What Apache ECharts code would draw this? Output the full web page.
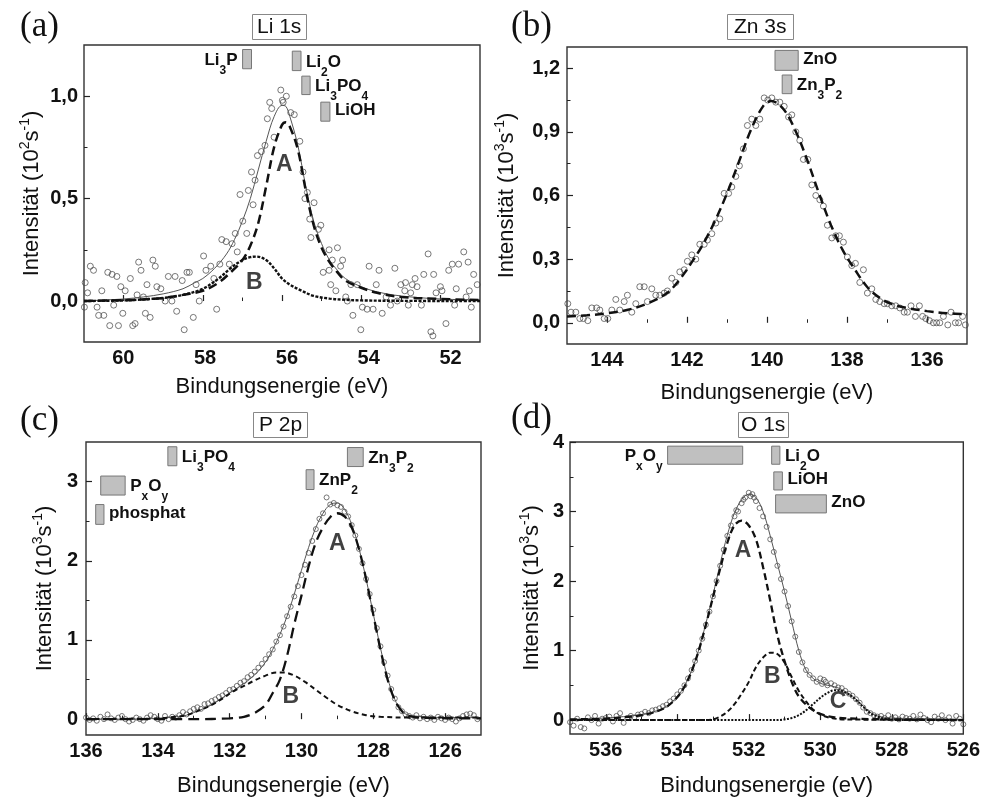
<!DOCTYPE html>
<html><head><meta charset="utf-8">
<script src="https://cdn.jsdelivr.net/npm/echarts@6/dist/echarts.min.js"></script>
<style>html,body{margin:0;padding:0;background:#fff}#c{width:983px;height:798px}</style>
</head><body><div id="c"></div>
<script>
// ---------- (a) Li 1s ----------
const aLiPts = [[60.99,-0.03],[60.97,0.09],[60.91,0.04],[60.84,0.17],[60.76,0.15],[60.67,-0.03],[60.63,-0.07],[60.55,0.05],[60.50,-0.07],[60.40,0.14],[60.35,-0.12],[60.29,0.13],[60.25,-0.02],[60.17,0.12],[60.13,-0.12],[60.07,0.07],[60.02,-0.06],[59.96,0.05],[59.83,0.11],[59.77,-0.12],[59.71,-0.11],[59.66,0.03],[59.62,0.19],[59.56,0.15],[59.50,0.02],[59.45,-0.06],[59.41,0.08],[59.33,-0.08],[59.26,0.20],[59.20,0.17],[59.16,0.07],[59.06,0.06],[58.95,0.00],[58.87,0.12],[58.78,0.00],[58.70,0.12],[58.66,-0.05],[58.52,0.10],[58.47,-0.14],[58.40,0.14],[58.34,0.14],[58.24,-0.08],[58.17,0.08],[58.09,0.00],[57.98,0.22],[57.92,0.15],[57.80,0.17],[57.72,0.11],[57.65,-0.04],[57.57,0.18],[57.52,0.30],[57.41,0.29],[57.33,0.18],[57.26,0.28],[57.18,0.33],[57.13,0.24],[57.06,0.52],[56.99,0.39],[56.89,0.33],[56.85,0.54],[56.77,0.63],[56.73,0.47],[56.68,0.59],[56.62,0.71],[56.52,0.73],[56.43,0.76],[56.37,0.89],[56.31,0.97],[56.26,0.94],[56.20,0.80],[56.03,1.03],[55.99,0.98],[55.97,0.97],[55.89,1.00],[55.78,0.92],[55.69,0.91],[55.55,0.78],[55.47,0.63],[55.42,0.50],[55.36,0.53],[55.30,0.40],[55.27,0.31],[55.19,0.48],[55.08,0.35],[55.02,0.37],[54.96,0.14],[54.81,0.25],[54.81,0.15],[54.77,0.08],[54.73,0.20],[54.64,0.05],[54.60,0.26],[54.52,0.17],[54.47,0.20],[54.39,0.02],[54.35,0.00],[54.26,0.08],[54.21,-0.07],[54.10,0.08],[54.01,-0.14],[53.97,-0.03],[53.85,-0.04],[53.80,0.17],[53.70,-0.04],[53.62,0.08],[53.55,0.15],[53.47,-0.06],[53.37,0.02],[53.26,-0.02],[53.15,0.16],[53.09,0.00],[53.00,0.08],[52.90,0.05],[52.88,0.09],[52.81,-0.02],[52.75,0.04],[52.71,0.08],[52.64,0.11],[52.59,0.07],[52.48,-0.02],[52.42,0.13],[52.31,0.23],[52.24,-0.15],[52.19,-0.17],[52.17,0.13],[52.11,0.04],[52.00,0.07],[51.96,0.05],[51.86,-0.11],[51.79,0.15],[51.70,0.18],[51.64,-0.02],[51.60,0.06],[51.54,0.18],[51.41,0.24],[51.35,0.02],[51.30,0.19],[51.27,0.05],[51.22,-0.03],[51.16,0.13],[51.07,0.08]];
const aLiEnv = [[61,0.0],[60.5,0.005],[60,0.01],[59.5,0.02],[59,0.035],[58.5,0.06],[58.2,0.09],[58,0.11],[57.7,0.16],[57.4,0.23],[57.2,0.3],[57.0,0.39],[56.8,0.5],[56.6,0.64],[56.4,0.78],[56.2,0.9],[56.0,0.955],[55.9,0.95],[55.8,0.9],[55.6,0.76],[55.4,0.56],[55.2,0.39],[55.0,0.28],[54.8,0.2],[54.6,0.15],[54.4,0.11],[54.0,0.07],[53.6,0.045],[53.0,0.025],[52.0,0.01],[51,0.005]];
const aLiA = [[61,0.0],[60,0.004],[59.5,0.008],[59,0.015],[58.5,0.03],[58,0.05],[57.6,0.09],[57.3,0.14],[57.0,0.2],[56.8,0.27],[56.6,0.38],[56.4,0.56],[56.2,0.75],[56.0,0.86],[55.9,0.873],[55.8,0.85],[55.6,0.74],[55.4,0.54],[55.2,0.37],[55.0,0.26],[54.8,0.19],[54.6,0.14],[54.4,0.1],[54.0,0.065],[53.6,0.04],[53.0,0.02],[52,0.01],[51,0.005]];
const aLiB = [[61,0.0],[60,0.003],[59.5,0.008],[59,0.015],[58.5,0.03],[58,0.06],[57.6,0.11],[57.3,0.16],[57.0,0.2],[56.8,0.214],[56.65,0.217],[56.4,0.2],[56.2,0.16],[56.0,0.11],[55.8,0.08],[55.5,0.05],[55.2,0.025],[54.8,0.012],[54.4,0.006],[54,0.003],[53,0.001],[51,0.0]];
const aLiBars = [[56.995,56.77,1.134,1.228],[55.74,55.52,1.125,1.22],[55.5,55.29,1.008,1.098],[55.02,54.79,0.878,0.971]];
const aLiBarNames = ['{m|Li}{s|3}{m|P}','{m|Li}{s|2}{m|O}','{m|Li}{s|3}{m|PO}{s|4}','{m|LiOH}'];
const aLiBarSide = ['left','right','right','right'];
const aLiPeakNames = ['A','B'];
const aLiPeakPos = [[55.94,0.667],[56.7,0.09]];
const aLiXTicks = [52,54,56,58,60], aLiXMinor = [53,55,57,59];
const aLiYTicks = [0,0.5,1.0], aLiYMinor = [0.25,0.75];
// the printed tick labels of panel (a) sit on a slightly wider scale than its tick marks
const aLiXLabelRange = [51.28, 60.96];

// ---------- (b) Zn 3s ----------
const aZnPts = [[144.98,0.09],[144.90,0.05],[144.78,0.05],[144.68,0.02],[144.59,0.02],[144.48,0.01],[144.38,0.07],[144.26,0.07],[144.18,0.06],[144.07,0.02],[143.98,0.02],[143.88,0.06],[143.78,0.11],[143.68,0.06],[143.57,0.10],[143.49,0.13],[143.38,0.05],[143.28,0.09],[143.18,0.17],[143.07,0.17],[142.99,0.10],[142.88,0.16],[142.78,0.13],[142.68,0.13],[142.57,0.14],[142.49,0.15],[142.38,0.21],[142.28,0.19],[142.18,0.24],[142.07,0.25],[141.99,0.29],[141.88,0.32],[141.78,0.30],[141.68,0.37],[141.57,0.37],[141.49,0.39],[141.38,0.42],[141.28,0.47],[141.18,0.49],[141.07,0.61],[140.96,0.61],[140.88,0.64],[140.78,0.69],[140.69,0.74],[140.59,0.82],[140.49,0.93],[140.38,0.96],[140.28,0.93],[140.18,0.96],[140.07,1.06],[139.98,1.05],[139.88,1.06],[139.78,1.04],[139.68,1.04],[139.57,1.02],[139.46,0.97],[139.38,0.98],[139.28,0.90],[139.18,0.86],[139.09,0.77],[138.98,0.77],[138.88,0.65],[138.78,0.60],[138.68,0.58],[138.59,0.55],[138.49,0.46],[138.38,0.40],[138.28,0.41],[138.19,0.41],[138.09,0.38],[137.99,0.31],[137.88,0.27],[137.79,0.28],[137.68,0.19],[137.59,0.25],[137.49,0.14],[137.38,0.16],[137.28,0.11],[137.18,0.10],[137.07,0.09],[136.99,0.09],[136.88,0.08],[136.78,0.08],[136.68,0.07],[136.57,0.05],[136.49,0.05],[136.40,0.08],[136.29,0.03],[136.19,0.08],[136.11,0.03],[136.03,0.02],[135.94,0.01],[135.84,0.00],[135.76,0.00],[135.68,0.00],[135.59,0.03],[135.48,-0.01],[135.40,0.05],[135.29,0.00],[135.21,0.00],[135.11,0.03],[135.04,-0.01]];
const aZnFit = [[145,0.03],[144.5,0.035],[144,0.045],[143.5,0.06],[143,0.09],[142.5,0.14],[142.2,0.2],[141.9,0.28],[141.6,0.37],[141.3,0.48],[141.0,0.61],[140.7,0.76],[140.4,0.91],[140.1,1.02],[139.9,1.045],[139.6,1.01],[139.3,0.91],[139.0,0.77],[138.7,0.61],[138.4,0.46],[138.1,0.34],[137.8,0.25],[137.5,0.17],[137.2,0.12],[136.9,0.09],[136.5,0.07],[136,0.055],[135.5,0.045],[135,0.04]];
const aZnBars = [[139.8,139.22,1.19,1.284],[139.62,139.38,1.08,1.168]];
const aZnBarNames = ['{m|ZnO}','{m|Zn}{s|3}{m|P}{s|2}'];
const aZnBarSide = ['right','right'];
const aZnXTicks = [136,138,140,142,144], aZnXMinor = [137,139,141,143];
const aZnYTicks = [0,0.3,0.6,0.9,1.2], aZnYMinor = [0.15,0.45,0.75,1.05];

// ---------- (c) P 2p ----------
const aPPts = [[136.0,0.02],[135.9,-0.01],[135.8,0.01],[135.7,-0.02],[135.6,0.03],[135.5,0.0],[135.4,0.06],[135.3,0.01],[135.2,-0.01],[135.1,0.02],[135.0,0.04],[134.9,0.0],[134.8,-0.03],[134.7,-0.01],[134.6,0.02],[134.5,0.0],[134.4,-0.02],[134.3,0.02],[134.2,0.05],[134.1,0.03],[134.0,0.0],[133.9,-0.02],[133.8,0.04],[133.7,0.0],[133.6,0.03],[133.5,0.02],[133.4,0.05],[133.3,0.09],[133.2,0.06],[133.1,0.1],[133.0,0.13],[132.9,0.15],[132.8,0.13],[132.7,0.19],[132.6,0.2],[132.5,0.23],[132.4,0.25],[132.3,0.28],[132.2,0.3],[132.1,0.33],[132.0,0.37],[131.9,0.38],[131.8,0.42],[131.7,0.46],[131.6,0.48],[131.5,0.53],[131.4,0.56],[131.3,0.6],[131.2,0.65],[131.1,0.7],[131.0,0.76],[130.9,0.82],[130.8,0.88],[130.7,0.98],[130.6,1.06],[130.5,1.17],[130.4,1.3],[130.3,1.42],[130.2,1.55],[130.1,1.68],[130.0,1.82],[129.9,1.95],[129.8,2.1],[129.7,2.25],[129.6,2.4],[129.5,2.53],[129.4,2.6],[129.3,2.8],[129.2,2.71],[129.1,2.73],[129.0,2.7],[128.9,2.68],[128.8,2.62],[128.7,2.56],[128.6,2.45],[128.5,2.32],[128.4,2.15],[128.3,1.97],[128.2,1.77],[128.1,1.58],[128.0,1.38],[127.9,1.15],[127.8,0.92],[127.7,0.72],[127.6,0.55],[127.5,0.38],[127.4,0.26],[127.3,0.15],[127.2,0.1],[127.1,0.06],[127.0,0.04],[126.9,0.02],[126.8,0.05],[126.7,0.01],[126.6,0.03],[126.5,0.0],[126.4,0.02],[126.3,-0.01],[126.2,0.03],[126.1,0.01],[126.0,-0.01],[125.9,0.02],[125.8,0.0],[125.7,-0.03],[125.6,0.01],[125.5,0.04],[125.4,0.06],[125.3,0.07],[125.2,0.05],[125.1,0.0]];
const aPEnv = [[136,0.0],[135,0.0],[134,0.01],[133.5,0.03],[133.2,0.05],[132.8,0.12],[132.5,0.18],[132.2,0.27],[131.9,0.36],[131.6,0.45],[131.3,0.56],[131.0,0.72],[130.8,0.88],[130.6,1.07],[130.4,1.3],[130.2,1.58],[130.0,1.88],[129.8,2.17],[129.6,2.42],[129.4,2.6],[129.2,2.71],[129.0,2.73],[128.8,2.65],[128.6,2.46],[128.4,2.16],[128.2,1.77],[128.0,1.33],[127.8,0.9],[127.6,0.52],[127.4,0.25],[127.2,0.1],[127.0,0.05],[126.5,0.03],[126,0.02],[125,0.02]];
const aPA = [[136,0],[133,0],[132,0.01],[131.6,0.03],[131.3,0.08],[131.0,0.18],[130.8,0.33],[130.6,0.5],[130.4,0.8],[130.2,1.2],[130.0,1.56],[129.8,1.93],[129.6,2.23],[129.4,2.42],[129.2,2.55],[129.0,2.6],[128.8,2.56],[128.6,2.42],[128.4,2.15],[128.2,1.77],[128.0,1.32],[127.8,0.88],[127.6,0.5],[127.4,0.24],[127.2,0.1],[127.0,0.04],[126.5,0.015],[125,0.01]];
const aPB = [[136,0.0],[134.5,0.005],[134,0.01],[133.5,0.03],[133.2,0.05],[132.8,0.12],[132.5,0.18],[132.2,0.26],[131.9,0.35],[131.6,0.42],[131.3,0.49],[131.0,0.55],[130.7,0.59],[130.5,0.59],[130.2,0.55],[129.9,0.47],[129.6,0.37],[129.3,0.27],[129.0,0.18],[128.6,0.1],[128.2,0.05],[127.8,0.03],[127,0.02],[125,0.02]];
const aPBars = [[133.72,133.47,3.2,3.44],[128.72,128.28,3.19,3.43],[129.87,129.65,2.9,3.15],[135.59,134.91,2.83,3.07],[135.73,135.5,2.46,2.71]];
const aPBarNames = ['{m|Li}{s|3}{m|PO}{s|4}','{m|Zn}{s|3}{m|P}{s|2}','{m|ZnP}{s|2}','{m|P}{s|x}{m|O}{s|y}','{m|phosphat}'];
const aPBarSide = ['right','right','right','right','right'];
const aPPeakNames = ['A','B'];
const aPPeakPos = [[129.0,2.21],[130.3,0.29]];
const aPXTicks = [126,128,130,132,134,136], aPXMinor = [127,129,131,133,135];
const aPYTicks = [0,1,2,3], aPYMinor = [0.5,1.5,2.5];

// ---------- (d) O 1s ----------
const aOPts = [[537.0,-0.03],[536.9,-0.08],[536.8,0.02],[536.7,-0.1],[536.6,-0.12],[536.5,0.04],[536.4,0.0],[536.3,0.06],[536.2,-0.05],[536.1,0.02],[536.0,0.03],[535.9,0.05],[535.8,-0.02],[535.7,0.06],[535.6,0.1],[535.5,-0.04],[535.4,0.03],[535.3,0.06],[535.2,0.04],[535.1,0.08],[535.0,0.09],[534.9,0.12],[534.8,0.1],[534.7,0.14],[534.6,0.15],[534.5,0.17],[534.4,0.2],[534.3,0.22],[534.2,0.27],[534.1,0.31],[534.0,0.37],[533.9,0.42],[533.8,0.5],[533.7,0.6],[533.6,0.72],[533.5,0.85],[533.4,1.0],[533.3,1.17],[533.2,1.37],[533.1,1.56],[533.0,1.78],[532.9,2.0],[532.8,2.22],[532.7,2.45],[532.6,2.65],[532.5,2.8],[532.4,2.93],[532.35,3.02],[532.3,3.0],[532.2,3.12],[532.15,3.17],[532.1,3.2],[532.0,3.27],[531.95,3.22],[531.9,3.25],[531.85,3.2],[531.8,3.15],[531.7,3.05],[531.6,2.93],[531.5,2.78],[531.4,2.6],[531.3,2.42],[531.2,2.22],[531.1,2.03],[531.0,1.85],[530.9,1.64],[530.8,1.42],[530.7,1.2],[530.6,0.98],[530.5,0.83],[530.4,0.72],[530.3,0.65],[530.2,0.6],[530.1,0.55],[530.0,0.6],[529.95,0.52],[529.9,0.58],[529.85,0.55],[529.8,0.5],[529.7,0.53],[529.6,0.5],[529.5,0.47],[529.4,0.46],[529.3,0.42],[529.2,0.38],[529.1,0.35],[529.0,0.3],[528.9,0.25],[528.8,0.18],[528.7,0.12],[528.6,0.1],[528.5,0.07],[528.4,0.05],[528.3,0.06],[528.2,0.03],[528.1,0.07],[528.0,0.02],[527.9,0.04],[527.8,0.01],[527.7,0.05],[527.6,0.03],[527.5,0.02],[527.4,0.06],[527.3,0.01],[527.2,0.08],[527.1,0.03],[527.0,0.0],[526.9,-0.03],[526.8,0.05],[526.7,0.02],[526.6,0.07],[526.5,0.0],[526.4,0.04],[526.3,-0.05],[526.2,0.06],[526.1,0.02],[526.0,-0.06]];
const aOEnv = [[537,0.01],[536.5,0.02],[536,0.03],[535.5,0.05],[535,0.08],[534.6,0.13],[534.3,0.2],[534.0,0.34],[533.8,0.49],[533.6,0.71],[533.4,1.01],[533.2,1.39],[533.0,1.8],[532.8,2.25],[532.6,2.66],[532.4,2.98],[532.2,3.17],[532.0,3.25],[531.8,3.2],[531.6,3.0],[531.4,2.65],[531.2,2.25],[531.0,1.85],[530.8,1.42],[530.6,1.0],[530.4,0.72],[530.2,0.6],[530.0,0.53],[529.8,0.5],[529.6,0.48],[529.4,0.44],[529.2,0.38],[529.0,0.3],[528.8,0.2],[528.6,0.11],[528.4,0.06],[528.0,0.03],[527,0.02],[526,0.01]];
const aOA = [[537,0.01],[536,0.02],[535.5,0.04],[535,0.07],[534.6,0.12],[534.3,0.19],[534.0,0.33],[533.8,0.48],[533.6,0.7],[533.4,1.0],[533.2,1.37],[533.0,1.77],[532.8,2.18],[532.6,2.55],[532.4,2.8],[532.2,2.87],[532.0,2.8],[531.8,2.6],[531.6,2.2],[531.4,1.72],[531.2,1.22],[531.0,0.85],[530.8,0.55],[530.6,0.34],[530.3,0.18],[530.0,0.09],[529.6,0.04],[529,0.02],[528,0.01],[526,0.0]];
const aOB = [[537,0],[533.2,0.0],[533.0,0.01],[532.8,0.05],[532.6,0.12],[532.4,0.23],[532.2,0.38],[532.0,0.55],[531.8,0.76],[531.6,0.9],[531.4,0.97],[531.2,0.95],[531.0,0.83],[530.8,0.62],[530.6,0.42],[530.4,0.27],[530.2,0.15],[530.0,0.08],[529.7,0.03],[529.3,0.01],[526,0]];
const aOC = [[537,0],[531.2,0.0],[531.0,0.01],[530.8,0.03],[530.6,0.07],[530.4,0.14],[530.2,0.23],[530.0,0.32],[529.8,0.39],[529.6,0.43],[529.4,0.42],[529.2,0.37],[529.0,0.29],[528.8,0.19],[528.6,0.1],[528.4,0.05],[528.2,0.02],[527.8,0.0],[526,0]];
const aOBars = [[534.27,532.17,3.68,3.94],[531.36,531.13,3.68,3.94],[531.3,531.06,3.31,3.57],[531.25,529.83,2.98,3.24]];
const aOBarNames = ['{m|P}{s|x}{m|O}{s|y}','{m|Li}{s|2}{m|O}','{m|LiOH}','{m|ZnO}'];
const aOBarSide = ['left','right','right','right'];
const aOPeakNames = ['A','B','C'];
const aOPeakPos = [[532.16,2.43],[531.34,0.62],[529.5,0.26]];
const aOXTicks = [526,528,530,532,534,536], aOXMinor = [527,529,531,533,535];
const aOYTicks = [0,1,2,3,4], aOYMinor = [0.5,1.5,2.5,3.5];

// ---------- building ----------
const F = 'Liberation Sans, Arial, Helvetica, sans-serif';
const INK = '#111';
const barRich = {
  m: {fontSize: 17, fontWeight: 'bold', fontFamily: F, color: INK, lineHeight: 20, verticalAlign: 'top'},
  s: {fontSize: 12, fontWeight: 'bold', fontFamily: F, color: INK, lineHeight: 12, padding: [13, 0, 0, 0], verticalAlign: 'top'}
};
const comma = v => v.toFixed(1).replace('.', ',');
const plain = v => String(v);
const labelStyle = {fontSize: 20, fontWeight: 'bold', fontFamily: F, color: INK};

const panels = [
  {grid: {left: 84, top: 45, width: 396, height: 297}, xmin: 51, xmax: 61, ymin: -0.2, ymax: 1.25,
   xT: aLiXTicks, xM: aLiXMinor, yT: aLiYTicks, yM: aLiYMinor, fmt: comma, exp: '2', xGap: 34, yGap: 38, yMargin: 6, xLab: aLiXLabelRange},
  {grid: {left: 567, top: 47, width: 400, height: 297}, xmin: 135, xmax: 145, ymin: -0.1, ymax: 1.3,
   xT: aZnXTicks, xM: aZnXMinor, yT: aZnYTicks, yM: aZnYMinor, fmt: comma, exp: '3', xGap: 38, yGap: 46, yMargin: 7},
  {grid: {left: 86, top: 442, width: 395, height: 295}, xmin: 125, xmax: 136, ymin: -0.2, ymax: 3.5,
   xT: aPXTicks, xM: aPXMinor, yT: aPYTicks, yM: aPYMinor, fmt: plain, exp: '3', xGap: 40, yGap: 27, yMargin: 8},
  {grid: {left: 570, top: 442, width: 395, height: 295}, xmin: 526, xmax: 537, ymin: -0.2, ymax: 4,
   xT: aOXTicks, xM: aOXMinor, yT: aOYTicks, yM: aOYMinor, fmt: plain, exp: '3', xGap: 41, yGap: 24, yMargin: 6}
];

const grids = [], xAxes = [], yAxes = [], extraX = [];
panels.forEach((p, gi) => {
  grids.push(Object.assign({show: true, borderColor: '#333', borderWidth: 1.4, backgroundColor: 'transparent'}, p.grid));
  xAxes.push({type: 'value', gridIndex: gi, min: p.xmin, max: p.xmax, inverse: true, position: 'bottom',
    axisLine: {show: false}, splitLine: {show: false},
    axisTick: {show: true, inside: true, length: 6, customValues: p.xT, lineStyle: {color: '#222', width: 1.2}},
    axisLabel: Object.assign({show: !p.xLab, customValues: p.xT, margin: 6, formatter: plain, showMinLabel: true, showMaxLabel: true}, labelStyle),
    name: 'Bindungsenergie (eV)', nameLocation: 'middle', nameGap: p.xGap,
    nameTextStyle: {fontSize: 22, fontFamily: F, color: INK}});
  xAxes.push({type: 'value', gridIndex: gi, min: p.xmin, max: p.xmax, inverse: true, position: 'bottom',
    axisLine: {show: false}, splitLine: {show: false}, axisLabel: {show: false},
    axisTick: {show: true, inside: true, length: 3.5, customValues: p.xM, lineStyle: {color: '#222', width: 1}}});
  if (p.xLab) {
    extraX.push({type: 'value', gridIndex: gi, min: p.xLab[0], max: p.xLab[1], inverse: true, position: 'bottom',
      axisLine: {show: false}, splitLine: {show: false}, axisTick: {show: false},
      axisLabel: Object.assign({show: true, customValues: p.xT, margin: 6, formatter: plain, showMinLabel: true, showMaxLabel: true}, labelStyle)});
  }
  yAxes.push({type: 'value', gridIndex: gi, min: p.ymin, max: p.ymax, position: 'left',
    axisLine: {show: false}, splitLine: {show: false},
    axisTick: {show: true, inside: true, length: 6, customValues: p.yT, lineStyle: {color: '#222', width: 1.2}},
    axisLabel: Object.assign({show: true, customValues: p.yT, margin: p.yMargin, formatter: p.fmt, showMinLabel: true, showMaxLabel: true}, labelStyle),
    name: '{n|Intensität (10}{p|' + p.exp + '}{n|s}{p|-1}{n|)}', nameLocation: 'middle', nameRotate: 90, nameGap: p.yGap,
    nameTextStyle: {rich: {
      n: {fontSize: 22, fontFamily: F, color: INK, lineHeight: 28},
      p: {fontSize: 14, fontFamily: F, color: INK, lineHeight: 14, verticalAlign: 'top'}}}});
  yAxes.push({type: 'value', gridIndex: gi, min: p.ymin, max: p.ymax, position: 'left',
    axisLine: {show: false}, splitLine: {show: false}, axisLabel: {show: false},
    axisTick: {show: true, inside: true, length: 3.5, customValues: p.yM, lineStyle: {color: '#222', width: 1}}});
});
extraX.forEach(a => xAxes.push(a));

function scatter(gi, data, size) {
  return {type: 'scatter', xAxisIndex: 2 * gi, yAxisIndex: 2 * gi, data: data, symbol: 'circle', symbolSize: size,
    itemStyle: {color: 'rgba(255,255,255,0)', borderColor: '#444', borderWidth: 0.9}, z: 2, silent: true};
}
function line(gi, data, color, width, type, z) {
  return {type: 'line', xAxisIndex: 2 * gi, yAxisIndex: 2 * gi, data: data, showSymbol: false, symbol: 'none',
    smooth: 0.35, lineStyle: {color: color, width: width, type: type}, z: z || 3, silent: true};
}
function peaks(gi, names, pos) {
  return {type: 'scatter', xAxisIndex: 2 * gi, yAxisIndex: 2 * gi, symbolSize: 1, itemStyle: {color: 'rgba(0,0,0,0)'},
    label: {show: true, position: 'inside', formatter: '{b}', fontSize: 23, fontWeight: 'bold', fontFamily: F, color: INK},
    data: names.map((n, i) => ({name: n, value: pos[i]})), z: 6, silent: true};
}
function bars(gi, data, names, sides) {
  return {type: 'custom', xAxisIndex: 2 * gi, yAxisIndex: 2 * gi, data: data, z: 5, silent: true,
    renderItem: function (params, api) {
      const p1 = api.coord([api.value(0), api.value(3)]);
      const p2 = api.coord([api.value(1), api.value(2)]);
      const x = Math.min(p1[0], p2[0]), y = Math.min(p1[1], p2[1]);
      const w = Math.abs(p2[0] - p1[0]), h = Math.abs(p2[1] - p1[1]);
      const i = params.dataIndex, side = sides[i], txt = names[i];
      const dy = txt.indexOf('{s|') >= 0 ? 2.5 : 0;
      return {type: 'group', children: [
        {type: 'rect', shape: {x: x, y: y, width: w, height: h}, style: {fill: '#c0c0c0', stroke: '#777', lineWidth: 1}},
        {type: 'text', x: side === 'left' ? x - 5 : x + w + 5, y: y + h / 2 + dy,
         style: {text: txt, rich: barRich, align: side === 'left' ? 'right' : 'left', verticalAlign: 'middle', fill: INK}}
      ]};
    }};
}

const series = [
  scatter(0, aLiPts, 6),
  line(0, aLiEnv, '#555', 1, 'solid', 3),
  line(0, aLiA, '#111', 2.5, [9, 5], 4),
  line(0, aLiB, '#111', 2.4, [3, 1.5], 4),
  bars(0, aLiBars, aLiBarNames, aLiBarSide),
  peaks(0, aLiPeakNames, aLiPeakPos),

  scatter(1, aZnPts, 6),
  line(1, aZnFit, '#111', 2.5, [9, 5], 4),
  bars(1, aZnBars, aZnBarNames, aZnBarSide),

  scatter(2, aPPts, 5),
  line(2, aPEnv, '#555', 1, 'solid', 3),
  line(2, aPA, '#111', 2.3, [11, 6], 4),
  line(2, aPB, '#111', 2, [5, 3.5], 4),
  bars(2, aPBars, aPBarNames, aPBarSide),
  peaks(2, aPPeakNames, aPPeakPos),

  scatter(3, aOPts, 5),
  line(3, aOEnv, '#555', 1, 'solid', 3),
  line(3, aOA, '#111', 2.3, [7, 4], 4),
  line(3, aOB, '#111', 2, [5, 3], 4),
  line(3, aOC, '#111', 2, [2, 1.5], 4),
  bars(3, aOBars, aOBarNames, aOBarSide),
  peaks(3, aOPeakNames, aOPeakPos)
];

const boxText = {fontSize: 21, fontWeight: 'normal', fontFamily: F, color: INK, lineHeight: 22};
const letterText = {fontSize: 35, fontWeight: 'normal', fontFamily: 'Liberation Serif, Times New Roman, serif', color: INK};
const titles = [
  {text: 'Li 1s', left: 252, top: 14, padding: [2, 5, 2, 5], borderColor: '#888', borderWidth: 1, textStyle: boxText},
  {text: 'Zn 3s', left: 727, top: 14, padding: [2, 7, 2, 7], borderColor: '#888', borderWidth: 1, textStyle: boxText},
  {text: 'P 2p', left: 253, top: 412, padding: [2, 6, 2, 6], borderColor: '#888', borderWidth: 1, textStyle: boxText},
  {text: 'O 1s', left: 738, top: 412, padding: [2, 3, 2, 3], borderColor: '#888', borderWidth: 1, textStyle: boxText},
  {text: '(a)', left: 20, top: 9, padding: 0, textStyle: letterText},
  {text: '(b)', left: 511, top: 9, padding: 0, textStyle: letterText},
  {text: '(c)', left: 20, top: 403, padding: 0, textStyle: letterText},
  {text: '(d)', left: 511, top: 401, padding: 0, textStyle: letterText}
];

const chart = echarts.init(document.getElementById('c'), null, {renderer: 'canvas'});
chart.setOption({
  animation: false,
  backgroundColor: '#fff',
  title: titles,
  grid: grids,
  xAxis: xAxes,
  yAxis: yAxes,
  series: series
});
</script>
</body></html>
